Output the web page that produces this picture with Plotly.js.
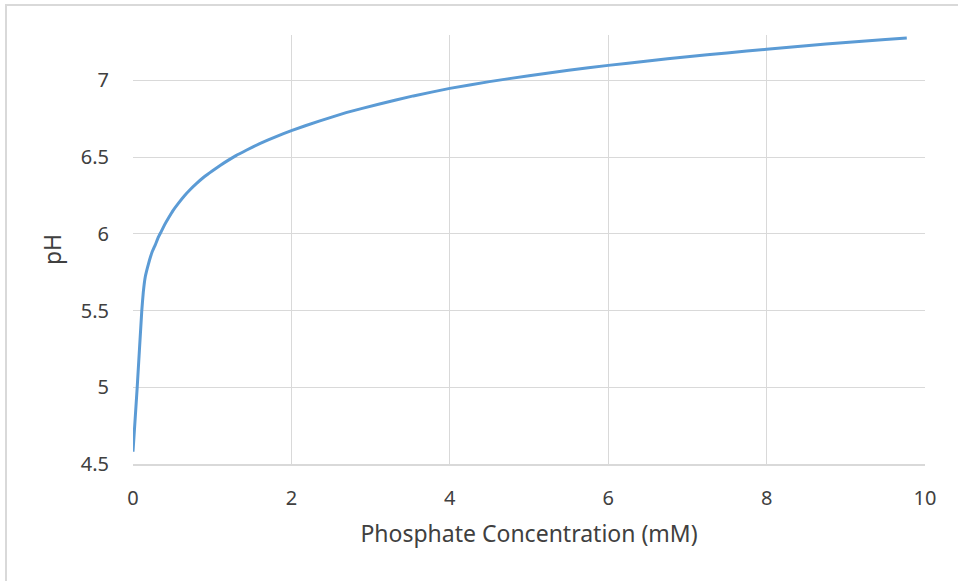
<!DOCTYPE html>
<html>
<head>
<meta charset="utf-8">
<script src="https://cdn.plot.ly/plotly-3.0.1.min.js"></script>
<style>
  html, body { margin: 0; padding: 0; background: #fff; }
  #wrap { position: relative; width: 958px; height: 581px; overflow: hidden; }
  #chart { position: absolute; left: 0; top: 0; width: 958px; height: 581px; }
  #frame { position: absolute; left: 5px; top: 4px; width: 1000px; height: 700px;
           border-left: 2px solid #d9d9d9; border-top: 2px solid #d9d9d9; pointer-events: none; }
</style>
</head>
<body>
<div id="wrap">
  <div id="chart"></div>
  <div id="frame"></div>
</div>
<script>
const concentration = [0, 0.053, 0.111, 0.13, 0.155, 0.18, 0.208, 0.24, 0.28, 0.32, 0.356, 0.4, 0.45, 0.503, 0.57, 0.65, 0.72, 0.8, 0.9, 1.0, 1.1, 1.2, 1.3, 1.43, 1.6, 1.8, 2.0, 2.35, 2.69, 3.1, 3.54, 4.0, 4.5, 5.0, 5.5, 6.0, 6.5, 7.0, 7.5, 8.0, 8.5, 9.0, 9.5, 9.77];
const pH = [4.58, 5.0, 5.5, 5.62, 5.72, 5.775, 5.828, 5.88, 5.927, 5.978, 6.015, 6.06, 6.105, 6.15, 6.197, 6.248, 6.287, 6.327, 6.372, 6.41, 6.446, 6.479, 6.51, 6.545, 6.588, 6.632, 6.673, 6.735, 6.79, 6.845, 6.899, 6.948, 6.992, 7.031, 7.066, 7.098, 7.127, 7.154, 7.179, 7.203, 7.226, 7.247, 7.266, 7.276];
const xTicks = [0, 2, 4, 6, 8, 10];
const yTicks = [4.5, 5, 5.5, 6, 6.5, 7];

const fontFam = '"Noto Sans", "Open Sans", sans-serif';
const trace = {
  x: concentration, y: pH, type: 'scatter', mode: 'lines',
  line: { color: '#5b9bd5', width: 3, shape: 'spline', smoothing: 0.3 },
  hoverinfo: 'x+y'
};
const layout = {
  width: 958, height: 581,
  margin: { l: 133, r: 33, t: 35, b: 117 },
  paper_bgcolor: '#ffffff', plot_bgcolor: '#ffffff',
  showlegend: false,
  font: { family: fontFam, color: '#404040', size: 20 },
  xaxis: {
    range: [0, 10], tickvals: xTicks, ticktext: xTicks.map(String),
    showgrid: true, gridcolor: '#d9d9d9', gridwidth: 1,
    zeroline: false, showline: true, linecolor: '#d9d9d9', linewidth: 1.5,
    ticks: '', ticklabelstandoff: 15,
    tickfont: { family: fontFam, size: 20, color: '#404040' },
    title: { text: 'Phosphate Concentration (mM)', font: { family: fontFam, size: 23, color: '#404040' }, standoff: 16 },
    automargin: false
  },
  yaxis: {
    range: [4.5, 7.296], tickvals: yTicks, ticktext: ['4.5', '5', '5.5', '6', '6.5', '7'],
    showgrid: true, gridcolor: '#d9d9d9', gridwidth: 1,
    zeroline: false, showline: false,
    ticks: '', ticklabelstandoff: 23,
    tickfont: { family: fontFam, size: 20, color: '#404040' },
    title: { text: 'pH', font: { family: fontFam, size: 23, color: '#404040' }, standoff: 12 },
    automargin: false
  }
};
Plotly.newPlot('chart', [trace], layout, { staticPlot: true, displayModeBar: false });
</script>
</body>
</html>
